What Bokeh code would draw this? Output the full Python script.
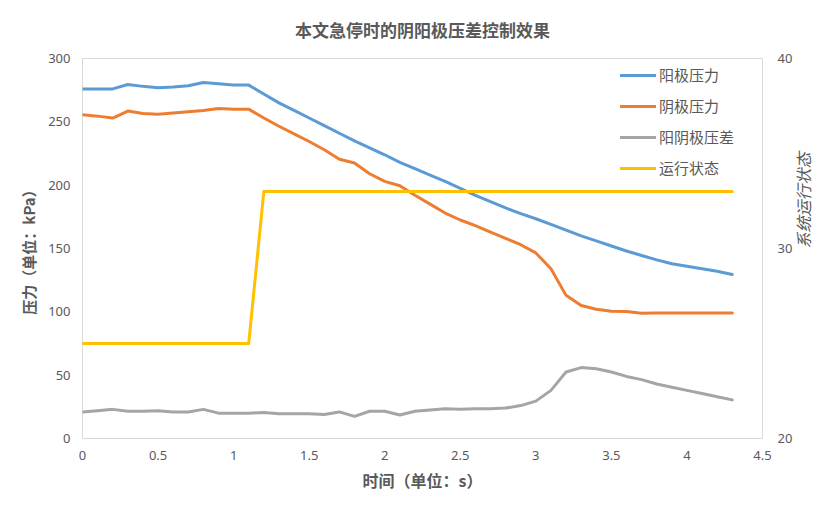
import math
from bokeh.plotting import figure
from bokeh.models import Range1d, LinearAxis, Legend, LegendItem, FixedTicker
from bokeh.embed import file_html
from bokeh.resources import INLINE

t = [round(i * 0.1, 1) for i in range(44)]

anode = [276, 276, 276, 279.5, 278, 277, 277.5, 278.5, 281, 280,
         279, 279, 272, 265, 259, 253, 247, 241, 235, 229.5,
         224, 218, 213, 208, 203, 197.5, 192, 187, 182, 177.5,
         173.5, 169, 164.5, 160, 156, 152, 148, 144.5, 141, 138,
         136, 134, 132, 129.5]

cathode = [255.5, 254.5, 253, 258.5, 256.5, 256, 257, 258, 259, 260.5,
           260, 260, 253, 246.5, 240.5, 234.5, 228, 220.5, 217.5, 209,
           203, 199.5, 192, 185, 178, 172.5, 168, 163, 158, 153,
           146.5, 134, 113, 105, 102, 100.5, 100.3, 98.8, 99, 99,
           99, 99, 99, 99]

diff = [21, 22, 23, 21.5, 21.5, 22, 21, 21, 23, 20,
        20, 20, 20.5, 19.5, 19.5, 19.5, 19, 21, 17.5, 21.5,
        21.5, 18.5, 21.5, 22.5, 23.5, 23, 23.5, 23.5, 24, 26,
        29.5, 38, 52.5, 56, 55, 52.5, 49, 46.5, 43, 40.5,
        38, 35.5, 33, 30.5]

state = [25, 25, 25, 25, 25, 25, 25, 25, 25, 25,
         25, 25, 33, 33, 33, 33, 33, 33, 33, 33,
         33, 33, 33, 33, 33, 33, 33, 33, 33, 33,
         33, 33, 33, 33, 33, 33, 33, 33, 33, 33,
         33, 33, 33, 33]

names = ["阳极压力", "阴极压力", "阳阴极压差", "运行状态"]
colors = ["#5B9BD5", "#ED7D31", "#A5A5A5", "#FFC000"]

x_ticks = [0, 0.5, 1, 1.5, 2, 2.5, 3, 3.5, 4, 4.5]
y_ticks = [0, 50, 100, 150, 200, 250, 300]
y2_ticks = [20, 30, 40]

TXT = "#595959"
CJK = "Noto Sans CJK SC"
NUM = "Noto Sans"

p = figure(frame_width=680, frame_height=380,
           x_range=Range1d(0, 4.5), y_range=Range1d(0, 300),
           output_backend="svg", toolbar_location=None,
           min_border_left=82, min_border_right=77,
           min_border_top=58, min_border_bottom=74,
           title="本文急停时的阴阳极压差控制效果")
p.extra_y_ranges = {"right": Range1d(20, 40)}

p.title.align = "center"
p.title.vertical_align = "top"
p.title.standoff = 30
p.title.text_font = CJK
p.title.text_font_size = "17px"
p.title.text_font_style = "bold"
p.title.text_color = TXT

p.outline_line_color = "#D9D9D9"
p.xgrid.visible = False
p.ygrid.visible = False
p.background_fill_color = "white"
p.border_fill_color = "white"

def style_axis(ax, ticks, standoff, lab_standoff):
    ax.ticker = FixedTicker(ticks=ticks)
    ax.axis_line_color = None
    ax.major_tick_line_color = None
    ax.minor_tick_line_color = None
    ax.major_tick_out = 0
    ax.major_tick_in = 0
    ax.minor_tick_out = 0
    ax.minor_tick_in = 0
    ax.major_label_text_font = NUM
    ax.major_label_text_font_size = "13px"
    ax.major_label_text_color = TXT
    ax.major_label_standoff = standoff
    ax.axis_label_text_font = CJK
    ax.axis_label_text_font_size = "15px"
    ax.axis_label_text_color = TXT
    ax.axis_label_standoff = lab_standoff

xa = p.xaxis[0]
style_axis(xa, x_ticks, 12, 5)
xa.axis_label = "时间（单位：s）"
xa.axis_label_text_font_style = "bold"
xa.axis_label_text_font_size = "16px"

ya = p.yaxis[0]
style_axis(ya, y_ticks, 12, 6)
ya.axis_label = "压力（单位：kPa）"
ya.axis_label_text_font_style = "bold"

ra = LinearAxis(y_range_name="right")
style_axis(ra, y2_ticks, 15, 8)
ra.axis_label = "系统运行状态"
ra.axis_label_text_font_size = "16px"
p.add_layout(ra, "right")
try:
    ra.axis_label_orientation = math.pi / 2
except Exception:
    pass

series = [anode, cathode, diff]
renderers = []
for s, c in zip(series, colors[:3]):
    r = p.line(t, s, line_color=c, line_width=3, line_join="round", line_cap="round")
    renderers.append(r)
r = p.line(t, state, line_color=colors[3], line_width=3, line_join="round",
           line_cap="round", y_range_name="right")
renderers.append(r)

legend = Legend(items=[LegendItem(label=n, renderers=[rr]) for n, rr in zip(names, renderers)],
                location=(538, 260))
legend.background_fill_alpha = 0
legend.border_line_color = None
legend.padding = 0
legend.margin = 0
legend.spacing = 10
legend.glyph_width = 36
legend.glyph_height = 20
legend.label_height = 20
legend.label_standoff = 3
legend.label_text_font = CJK
legend.label_text_font_size = "15px"
legend.label_text_color = TXT
p.add_layout(legend)

open("out.html", "w").write(file_html(p, INLINE))
